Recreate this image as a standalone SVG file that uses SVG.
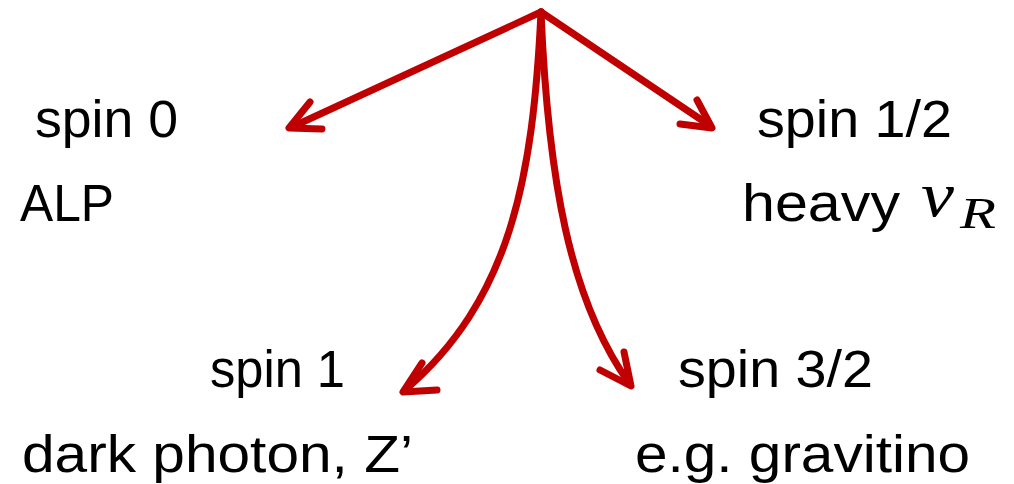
<svg xmlns="http://www.w3.org/2000/svg" width="1014" height="484" viewBox="0 0 1014 484">
<style>
.t{font-family:"Liberation Sans","DejaVu Sans",sans-serif;font-size:51px;fill:#000}
.m{font-family:"Liberation Serif","DejaVu Serif",serif;font-style:italic;fill:#000}
.c{fill:none;stroke:#c00000;stroke-width:7;stroke-linecap:round;stroke-linejoin:round}
</style>
<rect width="1014" height="484" fill="#fff"/>
<g id="connectors">
<path class="c" d="M541,12 L292,127"/>
<path class="c" d="M310,102 L289,128 L322,129"/>
<path class="c" d="M541,12 L709,125"/>
<path class="c" d="M697,100 L712,128 L680,124"/>
<path class="c" d="M541,12 C533,180 510,300 405,390"/>
<path class="c" d="M422,363 L403,392 L437,390"/>
<path class="c" d="M541,12 C548,180 570,300 629,383"/>
<path class="c" d="M624,352 L631,386 L600,370"/>
</g>
<g id="spin0"><text class="t" x="35" y="137" textLength="143" lengthAdjust="spacingAndGlyphs">spin 0</text><text class="t" x="20" y="221" textLength="94" lengthAdjust="spacingAndGlyphs">ALP</text></g>
<g id="spin12"><text class="t" x="757" y="137" textLength="195" lengthAdjust="spacingAndGlyphs">spin 1/2</text><text class="t" x="742" y="221" textLength="158" lengthAdjust="spacingAndGlyphs">heavy</text><text class="m" x="921" y="216" font-size="64" textLength="33" lengthAdjust="spacingAndGlyphs">ν</text><text class="m" x="960" y="228" font-size="44" textLength="36" lengthAdjust="spacingAndGlyphs">R</text></g>
<g id="spin1"><text class="t" x="210" y="387" textLength="135" lengthAdjust="spacingAndGlyphs">spin 1</text><text class="t" x="22" y="472" textLength="391" lengthAdjust="spacingAndGlyphs">dark photon, Z’</text></g>
<g id="spin32"><text class="t" x="678" y="387" textLength="195" lengthAdjust="spacingAndGlyphs">spin 3/2</text><text class="t" x="635" y="472" textLength="335" lengthAdjust="spacingAndGlyphs">e.g. gravitino</text></g>
</svg>
